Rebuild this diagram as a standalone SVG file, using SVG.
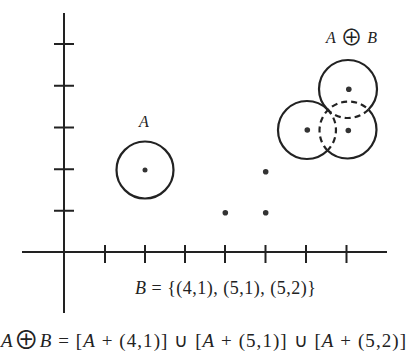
<svg xmlns="http://www.w3.org/2000/svg" width="409" height="362" viewBox="0 0 409 362">
<style>
.ax{stroke:#222;stroke-width:2;fill:none}
.c{stroke:#222;stroke-width:2.2;fill:none}
.d{stroke:#222;stroke-width:2.2;fill:none;stroke-dasharray:6 4}
.dot{fill:#333}
.t{font-family:"Liberation Serif","Times New Roman",serif;fill:#222}
.i{font-style:italic}
.op{font-family:"Noto Sans CJK JP","DejaVu Sans",sans-serif;font-weight:400}
</style>
<rect width="409" height="362" fill="#fff"/>
<g id="axes" class="ax">
<line x1="64" y1="13" x2="64" y2="313"/>
<line x1="22" y1="252" x2="387" y2="252"/>
<path d="M54 44H74M54 85.7H74M54 127.5H74M54 169.3H74M54 210.8H74"/>
<path d="M105 245V263M145 245V263M185 245V263M225 245V263M265.5 245V263M306 245V263M346.5 245V263"/>
</g>
<g id="A">
<circle class="c" cx="145" cy="170" r="28.5"/>
<circle class="dot" cx="145" cy="170" r="2.5"/>
<text class="t i" x="139" y="127" font-size="16">A</text>
</g>
<g id="B">
<circle class="dot" cx="225.3" cy="212.7" r="2.8"/>
<circle class="dot" cx="265.7" cy="212.7" r="2.8"/>
<circle class="dot" cx="265.7" cy="171.7" r="2.8"/>
</g>
<g id="dilation">
<path class="c" d="M327.5 109.5A29 29 0 1 0 327.5 150.5"/>
<path class="d" d="M327.5 109.5A29 29 0 0 1 327.5 150.5"/>
<path class="c" d="M368.5 109.5A29 29 0 0 1 327.5 150.5"/>
<path class="d" d="M327.5 150.5A29 29 0 0 1 368.5 109.5"/>
<path class="c" d="M327.5 109.5A29 29 0 1 1 368.5 109.5"/>
<path class="d" d="M368.5 109.5A29 29 0 0 1 327.5 109.5"/>
<circle class="dot" cx="307.3" cy="130" r="2.8"/>
<circle class="dot" cx="348.3" cy="130.5" r="2.8"/>
<circle class="dot" cx="348.8" cy="89.3" r="2.8"/>
<text class="t" x="326" y="43" font-size="16" textLength="51" lengthAdjust="spacing"><tspan class="i">A</tspan><tspan class="op" font-size="22" dy="2">⊕</tspan><tspan class="i" dy="-2">B</tspan></text>
</g>
<g id="labels">
<text class="t" x="135" y="294" font-size="18" textLength="181" lengthAdjust="spacing"><tspan class="i">B</tspan> = {(4,1), (5,1), (5,2)}</text>
<text class="t" x="1" y="347" font-size="19" textLength="405" lengthAdjust="spacing"><tspan class="i">A</tspan><tspan class="op" font-size="25" dy="2">⊕</tspan><tspan class="i" dy="-2">B</tspan> = [<tspan class="i">A</tspan> + (4,1)] ∪ [<tspan class="i">A</tspan> + (5,1)] ∪ [<tspan class="i">A</tspan> + (5,2)]</text>
</g>
</svg>
